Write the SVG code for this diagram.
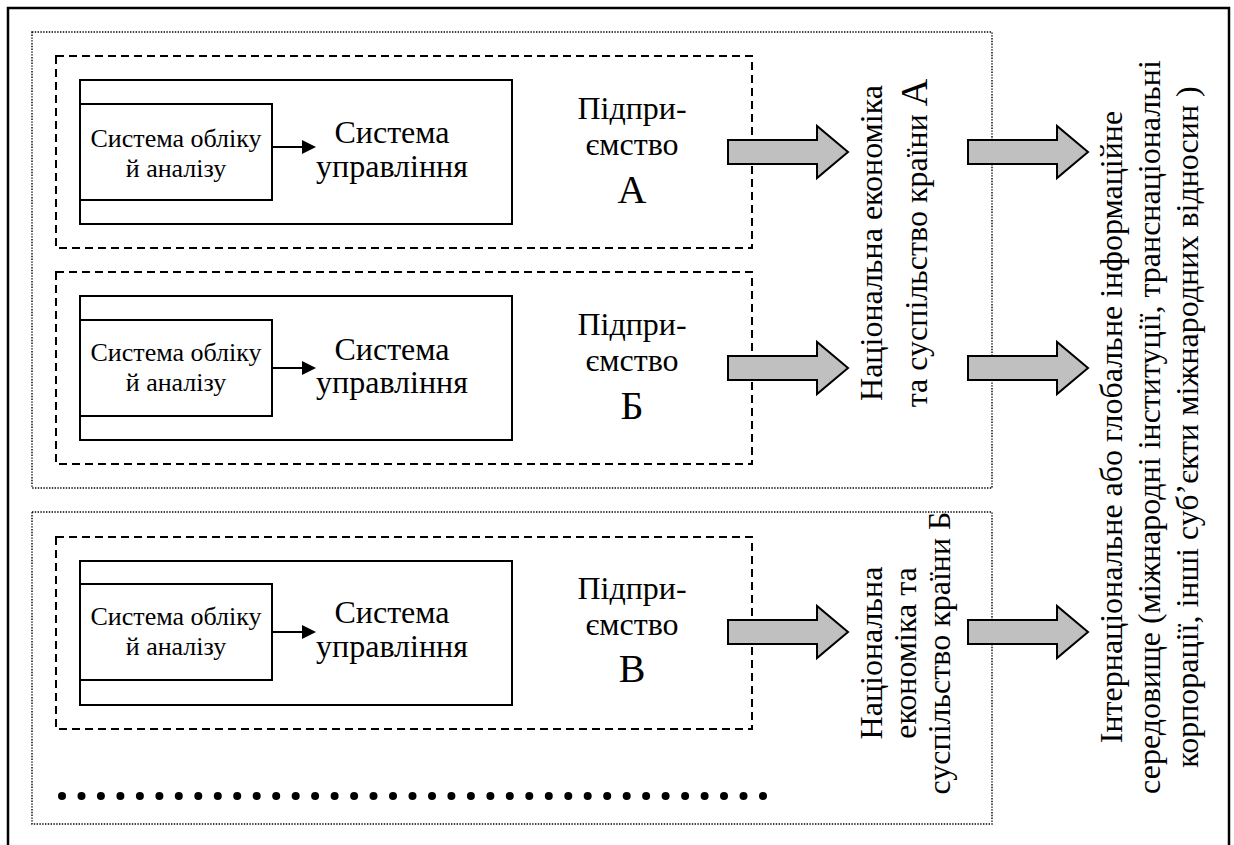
<svg xmlns="http://www.w3.org/2000/svg" width="1234" height="845" viewBox="0 0 1234 845">
<rect width="1234" height="845" fill="#fff"/>
<rect x="8" y="8" width="1221" height="900" fill="none" stroke="#000" stroke-width="2.5"/>

<g id="country-a">
<rect x="32" y="32" width="960" height="456" fill="none" stroke="#000" stroke-width="1.4" stroke-dasharray="1.4 1.4"/>
</g>
<g id="country-b">
<rect x="32" y="512" width="960" height="312" fill="none" stroke="#000" stroke-width="1.4" stroke-dasharray="1.4 1.4"/>
</g>

<g id="enterprise-a">
<rect x="56" y="56" width="696" height="192" fill="none" stroke="#000" stroke-width="2" stroke-dasharray="8 5"/>
<rect x="80" y="80" width="432" height="144" fill="none" stroke="#000" stroke-width="2"/>
<rect x="80" y="104" width="192" height="96" fill="none" stroke="#000" stroke-width="2"/>
<text x="176" y="147" font-family="Liberation Serif" font-size="26" text-anchor="middle">Система обліку</text>
<text x="176" y="177" font-family="Liberation Serif" font-size="26" text-anchor="middle">й аналізу</text>
<text x="392" y="143" font-family="Liberation Serif" font-size="32" text-anchor="middle">Система</text>
<text x="392" y="177" font-family="Liberation Serif" font-size="32" text-anchor="middle">управління</text>
<text x="632" y="119" font-family="Liberation Serif" font-size="32" text-anchor="middle">Підпри-</text>
<text x="632" y="155" font-family="Liberation Serif" font-size="32" text-anchor="middle">ємство</text>
<text x="632" y="203" font-family="Liberation Serif" font-size="40" text-anchor="middle">А</text>
</g>

<g id="enterprise-b">
<rect x="56" y="272" width="696" height="192" fill="none" stroke="#000" stroke-width="2" stroke-dasharray="8 5"/>
<rect x="80" y="296" width="432" height="144" fill="none" stroke="#000" stroke-width="2"/>
<rect x="80" y="320" width="192" height="96" fill="none" stroke="#000" stroke-width="2"/>
<text x="176" y="361" font-family="Liberation Serif" font-size="26" text-anchor="middle">Система обліку</text>
<text x="176" y="391" font-family="Liberation Serif" font-size="26" text-anchor="middle">й аналізу</text>
<text x="392" y="360" font-family="Liberation Serif" font-size="32" text-anchor="middle">Система</text>
<text x="392" y="393" font-family="Liberation Serif" font-size="32" text-anchor="middle">управління</text>
<text x="632" y="335" font-family="Liberation Serif" font-size="32" text-anchor="middle">Підпри-</text>
<text x="632" y="371" font-family="Liberation Serif" font-size="32" text-anchor="middle">ємство</text>
<text x="632" y="419" font-family="Liberation Serif" font-size="40" text-anchor="middle">Б</text>
</g>

<g id="enterprise-v">
<rect x="56" y="537" width="696" height="192" fill="none" stroke="#000" stroke-width="2" stroke-dasharray="8 5"/>
<rect x="80" y="561" width="432" height="144" fill="none" stroke="#000" stroke-width="2"/>
<rect x="80" y="584" width="192" height="96" fill="none" stroke="#000" stroke-width="2"/>
<text x="176" y="625" font-family="Liberation Serif" font-size="26" text-anchor="middle">Система обліку</text>
<text x="176" y="655" font-family="Liberation Serif" font-size="26" text-anchor="middle">й аналізу</text>
<text x="392" y="623" font-family="Liberation Serif" font-size="32" text-anchor="middle">Система</text>
<text x="392" y="657" font-family="Liberation Serif" font-size="32" text-anchor="middle">управління</text>
<text x="632" y="599" font-family="Liberation Serif" font-size="32" text-anchor="middle">Підпри-</text>
<text x="632" y="635" font-family="Liberation Serif" font-size="32" text-anchor="middle">ємство</text>
<text x="632" y="682" font-family="Liberation Serif" font-size="40" text-anchor="middle">В</text>
</g>

<g id="more" fill="#000">
<circle cx="62" cy="796" r="4"/><circle cx="81.5" cy="796" r="4"/><circle cx="100.9" cy="796" r="4"/><circle cx="120.4" cy="796" r="4"/><circle cx="139.9" cy="796" r="4"/><circle cx="159.4" cy="796" r="4"/><circle cx="178.8" cy="796" r="4"/><circle cx="198.3" cy="796" r="4"/><circle cx="217.8" cy="796" r="4"/><circle cx="237.2" cy="796" r="4"/><circle cx="256.7" cy="796" r="4"/><circle cx="276.2" cy="796" r="4"/><circle cx="295.7" cy="796" r="4"/><circle cx="315.1" cy="796" r="4"/><circle cx="334.6" cy="796" r="4"/><circle cx="354.1" cy="796" r="4"/><circle cx="373.5" cy="796" r="4"/><circle cx="393" cy="796" r="4"/><circle cx="412.5" cy="796" r="4"/><circle cx="432" cy="796" r="4"/><circle cx="451.4" cy="796" r="4"/><circle cx="470.9" cy="796" r="4"/><circle cx="490.4" cy="796" r="4"/><circle cx="509.8" cy="796" r="4"/><circle cx="529.3" cy="796" r="4"/><circle cx="548.8" cy="796" r="4"/><circle cx="568.3" cy="796" r="4"/><circle cx="587.7" cy="796" r="4"/><circle cx="607.2" cy="796" r="4"/><circle cx="626.7" cy="796" r="4"/><circle cx="646.1" cy="796" r="4"/><circle cx="665.6" cy="796" r="4"/><circle cx="685.1" cy="796" r="4"/><circle cx="704.6" cy="796" r="4"/><circle cx="724" cy="796" r="4"/><circle cx="743.5" cy="796" r="4"/><circle cx="763" cy="796" r="4"/>
</g>

<g id="economy-a">
<text transform="translate(882,243) rotate(-90)" font-family="Liberation Serif" font-size="32" text-anchor="middle">Національна економіка</text>
<text transform="translate(927,243) rotate(-90)" font-family="Liberation Serif" font-size="32" text-anchor="middle">та суспільство країни <tspan font-size="38">А</tspan></text>
</g>

<g id="economy-b">
<text transform="translate(882,653) rotate(-90)" font-family="Liberation Serif" font-size="32" text-anchor="middle">Національна</text>
<text transform="translate(916,653) rotate(-90)" font-family="Liberation Serif" font-size="32" text-anchor="middle">економіка та</text>
<text transform="translate(950,653) rotate(-90)" font-family="Liberation Serif" font-size="32" text-anchor="middle">суспільство країни Б</text>
</g>

<g id="international">
<text transform="translate(1122,427) rotate(-90)" font-family="Liberation Serif" font-size="32" text-anchor="middle">Інтернаціональне або глобальне інформаційне</text>
<text transform="translate(1160,427) rotate(-90)" font-family="Liberation Serif" font-size="32" text-anchor="middle">середовище  (міжнародні інституції, транснаціональні</text>
<text transform="translate(1198,427) rotate(-90)" font-family="Liberation Serif" font-size="32" text-anchor="middle">корпорації, інші суб’єкти міжнародних відносин )</text>
</g>

<g id="connectors">
<g stroke="#000" stroke-width="2">
<line x1="272" y1="147" x2="304" y2="147"/>
<line x1="272" y1="368" x2="304" y2="368"/>
<line x1="272" y1="632" x2="304" y2="632"/>
</g>
<g fill="#000">
<polygon points="302,140 316,147 302,154"/>
<polygon points="302,361 316,368 302,375"/>
<polygon points="302,625 316,632 302,639"/>
</g>
<g fill="#c0c0c0" stroke="#000" stroke-width="2">
<path d="M728,140 H817 V126 L848,152 L817,178 V164 H728 Z"/>
<path d="M728,356 H817 V342 L848,368 L817,394 V380 H728 Z"/>
<path d="M728,620 H817 V606 L848,632 L817,658 V644 H728 Z"/>
<path d="M968,140 H1057 V126 L1088,152 L1057,178 V164 H968 Z"/>
<path d="M968,356 H1057 V342 L1088,368 L1057,394 V380 H968 Z"/>
<path d="M968,620 H1057 V606 L1088,632 L1057,658 V644 H968 Z"/>
</g>
</g>
</svg>
